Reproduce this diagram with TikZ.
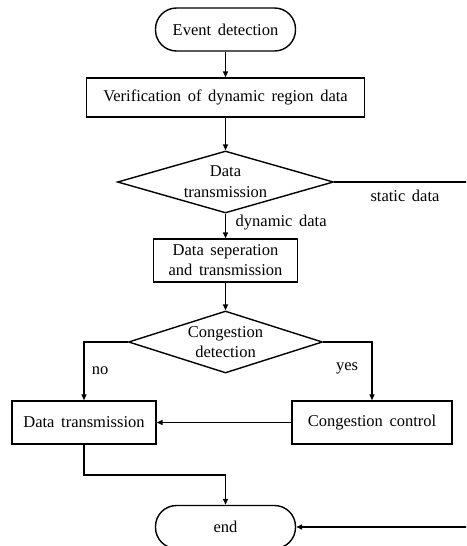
\documentclass[tikz,border=0pt]{standalone}
\usepackage{fontspec}
\setmainfont{Liberation Serif}[WordSpace=1.6]
\usetikzlibrary{shapes.geometric,arrows.meta}
\begin{document}
\begin{tikzpicture}[x=1pt,y=-1pt,
  font=\fontsize{16.5}{20}\selectfont,
  line width=1.4pt,
  >={Triangle[length=6pt,width=5pt]},
  term/.style={draw, rectangle, rounded corners=21pt, minimum width=140pt, minimum height=43pt, inner sep=0pt},
  box/.style={draw, rectangle, inner sep=0pt, align=center},
  dia/.style={draw, diamond, aspect=3.5, inner sep=0pt, align=center},
  lab/.style={inner sep=0pt},
  conn/.style={draw, ->}]
\useasboundingbox (0,0) rectangle (466,546);
\clip (0,0) rectangle (466,546);
\node[term] (start) at (225.5,29.5) {Event detection};
\node[box, minimum width=278pt, minimum height=39pt] (verif) at (225.5,97.5) {Verification of dynamic region data};
\node[dia, minimum width=216pt, minimum height=62pt] (dt) at (225.5,182) {Data\\[1pt]transmission};
\node[box, minimum width=144pt, minimum height=43pt] (sep) at (225.5,260.5) {Data seperation\\and transmission};
\node[dia, minimum width=194pt, minimum height=62pt] (cd) at (225.5,342) {Congestion\\detection};
\node[box, minimum width=144pt, minimum height=43pt] (dtx) at (84,422.5) {Data transmission};
\node[box, minimum width=160pt, minimum height=43pt] (cc) at (372,422.5) {Congestion control};
\node[term] (end) at (225.5,527) {end};
\coordinate (s1) at (472,182);
\coordinate (s2) at (472,527);
\coordinate (jn) at (84,475);
\draw[conn] (start) -- (verif);
\draw[conn] (verif) -- (dt);
\draw[conn] (dt) -- (sep);
\draw[conn] (sep) -- (cd);
\draw[conn] (cd.west) -| (dtx.north);
\draw[conn] (cd.east) -| (cc.north);
\draw[conn] (cc) -- (dtx);
\draw[conn] (dtx.south) -- (jn) -| (end.north);
\draw[conn] (dt.east) -- (s1) -- (s2) -- (end.east);
\node[lab] (lstatic) at (405,196) {static data};
\node[lab, anchor=west] (ldyn) at (235,223) {dynamic data};
\node[lab] (lno) at (100,371) {no};
\node[lab] (lyes) at (347,368) {yes};
\end{tikzpicture}
\end{document}
